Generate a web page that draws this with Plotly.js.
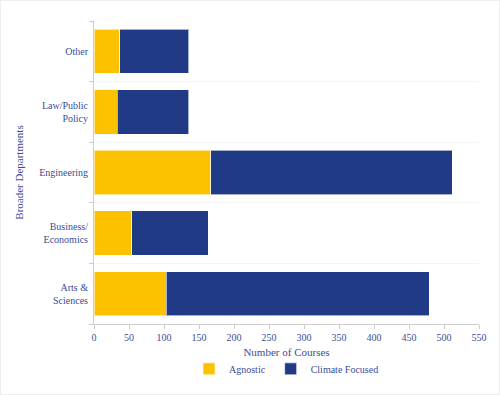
<!DOCTYPE html>
<html>
<head>
<meta charset="utf-8">
<script src="https://cdn.plot.ly/plotly-3.0.1.min.js"></script>
<style>
html,body{margin:0;padding:0;background:#fff;}
#frame{position:absolute;left:0;top:0;width:498px;height:393px;border:1px solid #eeeeee;}
#chart{position:absolute;left:-1px;top:-1px;width:500px;height:395px;}
</style>
</head>
<body>
<div id="frame"><div id="chart"></div></div>
<script>
const departments = ["Arts &amp;<br>Sciences", "Business/<br>Economics", "Engineering", "Law/Public<br>Policy", "Other"];
const agnostic = [103, 54, 167, 33, 37];
const climateFocused = [376, 109, 345, 102, 98];
const xTicks = [0, 50, 100, 150, 200, 250, 300, 350, 400, 450, 500, 550];

const textColor = "#3b4c9b";
const fontFam = "'Liberation Serif', serif";

const traces = [
  {type: "bar", orientation: "h", name: "Agnostic", y: departments, x: agnostic,
   marker: {color: "#fcc200", line: {color: "rgba(255,255,255,0.6)", width: 1}}},
  {type: "bar", orientation: "h", name: "Climate Focused", y: departments, x: climateFocused,
   marker: {color: "#213a86", line: {color: "rgba(255,255,255,0.6)", width: 1}}}
];

const layout = {
  width: 500, height: 395,
  barmode: "stack",
  bargap: 0.27,
  paper_bgcolor: "rgba(0,0,0,0)",
  plot_bgcolor: "#ffffff",
  margin: {l: 94, r: 21, t: 21, b: 71},
  font: {family: fontFam, color: textColor, size: 10},
  showlegend: true,
  legend: {orientation: "h", x: 0.5, xanchor: "center", y: -0.148, yanchor: "middle",
           font: {size: 10, color: textColor}, traceorder: "normal", itemwidth: 30},
  xaxis: {
    range: [0, 550], tickvals: xTicks, ticktext: xTicks.map(String),
    showgrid: false, zeroline: false,
    showline: true, linecolor: "#cccccc", linewidth: 1,
    ticks: "outside", ticklen: 4, tickcolor: "#cccccc",
    tickfont: {size: 10, color: textColor},
    title: {text: "Number of Courses", font: {size: 11, color: textColor}, standoff: 6},
    fixedrange: true
  },
  yaxis: {
    type: "category", categoryorder: "array", categoryarray: departments,
    tickson: "boundaries",
    showgrid: true, gridcolor: "#f4f4f4", gridwidth: 1,
    showline: true, linecolor: "#cccccc", linewidth: 1,
    ticks: "outside", ticklen: 4, tickcolor: "#cccccc",
    ticklabelstandoff: 3,
    tickfont: {size: 10, color: textColor},
    title: {text: "Broader Departments", font: {size: 11, color: textColor}, standoff: 13},
    automargin: false,
    fixedrange: true
  }
};

Plotly.newPlot("chart", traces, layout, {displayModeBar: false, staticPlot: true});
</script>
</body>
</html>
